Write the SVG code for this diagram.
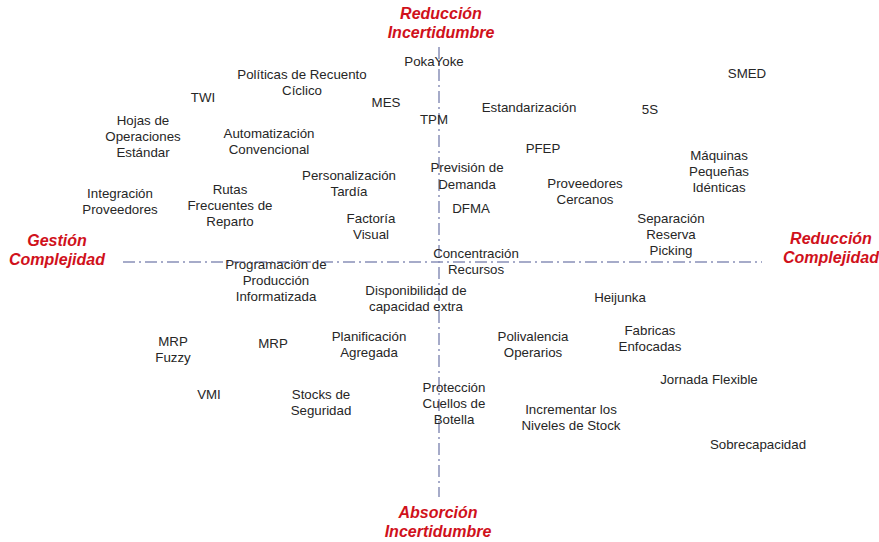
<svg xmlns="http://www.w3.org/2000/svg" width="879" height="542" viewBox="0 0 879 542">
<style>
.t{font-family:"Liberation Sans",Arial,sans-serif;font-size:13.3px;fill:#262626;text-anchor:middle}
.h{font-family:"Liberation Sans",Arial,sans-serif;font-size:16px;font-weight:bold;font-style:italic;fill:#d0111b;text-anchor:middle}
.ax{stroke:#8990b8;stroke-width:1.5;stroke-dasharray:12 4 2 4;fill:none}
</style>
<rect width="879" height="542" fill="#ffffff"/>
<g id="axes">
<line class="ax" x1="439" y1="47" x2="439" y2="497"/>
<line class="ax" x1="123" y1="262" x2="762" y2="262"/>
</g>
<g id="axis-labels">
<text class="h" x="441" y="19">Reducción</text>
<text class="h" x="441" y="38">Incertidumbre</text>
<text class="h" x="57" y="246">Gestión</text>
<text class="h" x="57" y="265">Complejidad</text>
<text class="h" x="831" y="244">Reducción</text>
<text class="h" x="831" y="263">Complejidad</text>
<text class="h" x="438" y="518">Absorción</text>
<text class="h" x="438" y="537">Incertidumbre</text>
</g>
<g id="n-pokayoke"><text class="t" x="434" y="66">PokaYoke</text></g>
<g id="n-politicas"><text class="t" x="302" y="79">Políticas de Recuento</text><text class="t" x="302" y="95">Cíclico</text></g>
<g id="n-twi"><text class="t" x="203" y="102">TWI</text></g>
<g id="n-mes"><text class="t" x="386" y="107">MES</text></g>
<g id="n-tpm"><text class="t" x="434" y="124">TPM</text></g>
<g id="n-estandarizacion"><text class="t" x="529" y="112">Estandarización</text></g>
<g id="n-smed"><text class="t" x="747" y="78">SMED</text></g>
<g id="n-5s"><text class="t" x="650" y="114">5S</text></g>
<g id="n-hojas"><text class="t" x="143" y="125">Hojas de</text><text class="t" x="143" y="141">Operaciones</text><text class="t" x="143" y="157">Estándar</text></g>
<g id="n-automatizacion"><text class="t" x="269" y="138">Automatización</text><text class="t" x="269" y="154">Convencional</text></g>
<g id="n-pfep"><text class="t" x="543" y="153">PFEP</text></g>
<g id="n-prevision"><text class="t" x="467" y="172">Previsión de</text><text class="t" x="467" y="189">Demanda</text></g>
<g id="n-maquinas"><text class="t" x="719" y="160">Máquinas</text><text class="t" x="719" y="176">Pequeñas</text><text class="t" x="719" y="192">Idénticas</text></g>
<g id="n-personalizacion"><text class="t" x="349" y="180">Personalización</text><text class="t" x="349" y="196">Tardía</text></g>
<g id="n-proveedores-cercanos"><text class="t" x="585" y="188">Proveedores</text><text class="t" x="585" y="204">Cercanos</text></g>
<g id="n-integracion"><text class="t" x="120" y="198">Integración</text><text class="t" x="120" y="214">Proveedores</text></g>
<g id="n-rutas"><text class="t" x="230" y="194">Rutas</text><text class="t" x="230" y="210">Frecuentes de</text><text class="t" x="230" y="226">Reparto</text></g>
<g id="n-dfma"><text class="t" x="471" y="213">DFMA</text></g>
<g id="n-factoria"><text class="t" x="371" y="223">Factoría</text><text class="t" x="371" y="239">Visual</text></g>
<g id="n-separacion"><text class="t" x="671" y="223">Separación</text><text class="t" x="671" y="239">Reserva</text><text class="t" x="671" y="255">Picking</text></g>
<g id="n-concentracion"><text class="t" x="476" y="258">Concentración</text><text class="t" x="476" y="274">Recursos</text></g>
<g id="n-programacion"><text class="t" x="276" y="269">Programación de</text><text class="t" x="276" y="285">Producción</text><text class="t" x="276" y="301">Informatizada</text></g>
<g id="n-disponibilidad"><text class="t" x="416" y="295">Disponibilidad de</text><text class="t" x="416" y="311">capacidad extra</text></g>
<g id="n-heijunka"><text class="t" x="620" y="302">Heijunka</text></g>
<g id="n-fabricas"><text class="t" x="650" y="335">Fabricas</text><text class="t" x="650" y="351">Enfocadas</text></g>
<g id="n-polivalencia"><text class="t" x="533" y="341">Polivalencia</text><text class="t" x="533" y="357">Operarios</text></g>
<g id="n-planificacion"><text class="t" x="369" y="341">Planificación</text><text class="t" x="369" y="357">Agregada</text></g>
<g id="n-mrp-fuzzy"><text class="t" x="173" y="346">MRP</text><text class="t" x="173" y="362">Fuzzy</text></g>
<g id="n-mrp"><text class="t" x="273" y="348">MRP</text></g>
<g id="n-jornada"><text class="t" x="709" y="384">Jornada Flexible</text></g>
<g id="n-vmi"><text class="t" x="209" y="399">VMI</text></g>
<g id="n-stocks"><text class="t" x="321" y="399">Stocks de</text><text class="t" x="321" y="415">Seguridad</text></g>
<g id="n-proteccion"><text class="t" x="454" y="392">Protección</text><text class="t" x="454" y="408">Cuellos de</text><text class="t" x="454" y="424">Botella</text></g>
<g id="n-incrementar"><text class="t" x="571" y="414">Incrementar los</text><text class="t" x="571" y="430">Niveles de Stock</text></g>
<g id="n-sobrecapacidad"><text class="t" x="758" y="449">Sobrecapacidad</text></g>
</svg>
